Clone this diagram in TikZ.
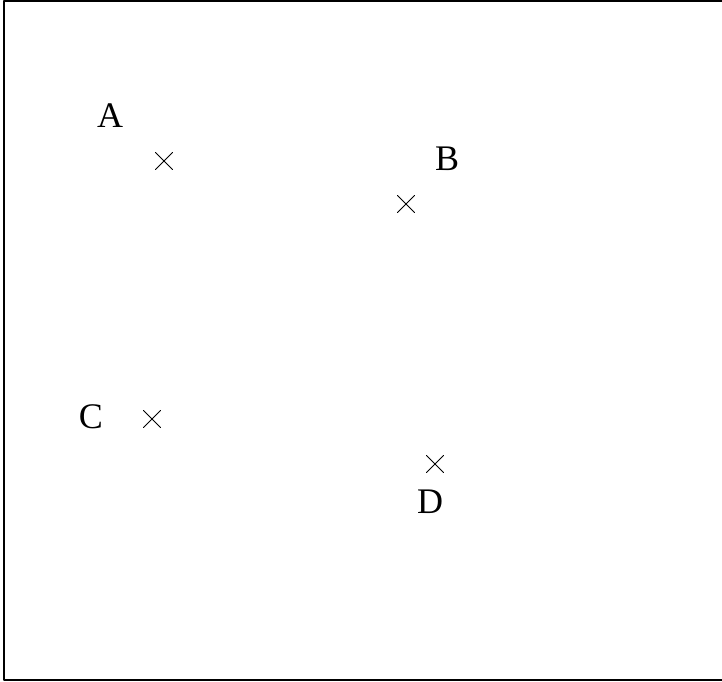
\documentclass[tikz,border=0pt]{standalone}
\usepackage{fontspec}
\setmainfont{Liberation Serif}
\usetikzlibrary{shapes.misc}
\begin{document}
\begin{tikzpicture}[x=0.5pt, y=-0.5pt, font=\fontsize{18}{20}\selectfont, line join=round, line cap=round,
	pt/.style={cross out, draw, minimum size=8pt, inner sep=0pt, line width=0.5pt}]
	\clip (0,0) rectangle (722,681);
	\fill[white] (0,0) rectangle (722,681);
	\draw[line width=0.8pt] (740,1) -- (4,1) -- (4,680) -- (740,680);
	\foreach \t/\px/\py/\lx/\ly in {
		A/164/161/110/116,
		B/406/204/447/159,
		C/152/419/91/417,
		D/435/464/430/502}
	{
		\node[pt] (p\t) at (\px,\py) {};
		\node[inner sep=0pt] (l\t) at (\lx,\ly) {\t};
	}
\end{tikzpicture}
\end{document}
